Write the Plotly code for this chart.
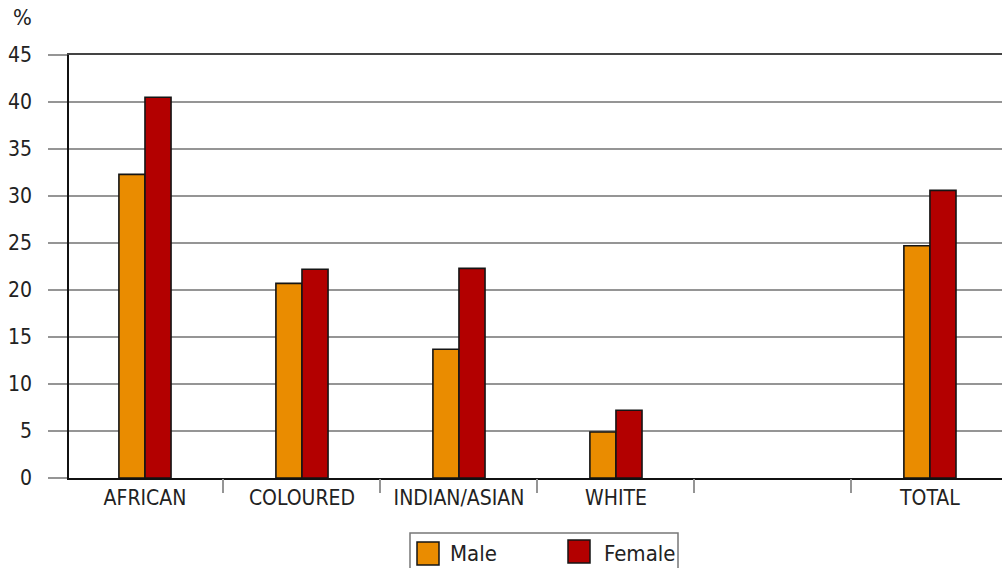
import plotly.graph_objects as go

# Share of population (%) by group and sex
categories = ["AFRICAN", "COLOURED", "INDIAN/ASIAN", "WHITE", "", "TOTAL"]
male = [32.3, 20.7, 13.7, 4.9, None, 24.7]
female = [40.5, 22.2, 22.3, 7.2, None, 30.6]
series_names = ["Male", "Female"]
y_ticks = [0, 5, 10, 15, 20, 25, 30, 35, 40, 45]

ORANGE = "#EA8C00"
RED = "#B30000"
FONT = "DejaVu Sans Condensed, Liberation Sans Narrow, sans-serif"
GRID = "#959595"

x_idx = list(range(len(categories)))
x_range = [-0.484, 5.459]

# plot-area geometry in pixels, used to place the legend box in paper units
L, T, B, W, H = 69, 55, 478, 1002, 568
PW, PH = W - L, B - T


def px_x(px):
    return (px - L) / PW


def px_y(py):
    return (B - py) / PH


fig = go.Figure()
for name, vals, col in [(series_names[0], male, ORANGE), (series_names[1], female, RED)]:
    fig.add_trace(go.Bar(
        x=x_idx, y=vals, name=name, showlegend=False,
        marker=dict(color=col, line=dict(color="#151515", width=1.6)),
    ))

# empty traces that carry the boundary-tick axis and the top frame axis
fig.add_trace(go.Scatter(x=[None], y=[None], xaxis="x2", showlegend=False, hoverinfo="skip"))
fig.add_trace(go.Scatter(x=[None], y=[None], xaxis="x3", showlegend=False, hoverinfo="skip"))

fig.update_layout(
    width=W, height=H,
    margin=dict(l=L, r=0, t=T, b=H - B),
    paper_bgcolor="white", plot_bgcolor="white",
    barmode="group", bargap=1 - 2 * 0.166, bargroupgap=0,
    font=dict(family=FONT, size=21, color="#222222"),
    xaxis=dict(
        range=x_range, tickmode="array", tickvals=x_idx, ticktext=categories,
        ticks="", showgrid=False, zeroline=False,
        showline=True, linecolor="#111111", linewidth=2,
        tickfont=dict(family=FONT, size=21, color="#222222"),
    ),
    xaxis2=dict(
        range=x_range, overlaying="x", anchor="y", side="bottom",
        tickmode="array", tickvals=[i + 0.5 for i in x_idx[:-1]],
        ticks="outside", ticklen=14, tickwidth=1.5, tickcolor=GRID,
        showticklabels=False, showgrid=False, zeroline=False, showline=False,
    ),
    xaxis3=dict(
        range=x_range, overlaying="x", anchor="y", side="top",
        showticklabels=False, ticks="", showgrid=False, zeroline=False,
        showline=True, linecolor="#444444", linewidth=2,
    ),
    yaxis=dict(
        range=[0, 45], tickmode="array", tickvals=y_ticks,
        ticks="outside", ticklen=19, tickwidth=1.5, tickcolor=GRID,
        showgrid=True, gridcolor=GRID, gridwidth=1.5, zeroline=False,
        showline=True, linecolor="#111111", linewidth=1.5,
        ticklabelstandoff=12,
        tickfont=dict(family=FONT, size=21, color="#222222"),
    ),
    annotations=[
        dict(text="%", xref="paper", yref="paper", x=px_x(22), y=px_y(18),
             xanchor="center", yanchor="middle", showarrow=False,
             font=dict(family=FONT, size=22, color="#222222")),
    ],
)

# legend drawn as a framed box with square swatches below the plot
legend_shapes = [
    dict(type="rect", xref="paper", yref="paper", x0=px_x(410), x1=px_x(678),
         y0=px_y(572), y1=px_y(533),
         line=dict(color="#777777", width=1.5), fillcolor="white", layer="above"),
]
swatches = [(417, 542, ORANGE), (568, 540, RED)]
for (sx, sy, col) in swatches:
    legend_shapes.append(dict(
        type="rect", xref="paper", yref="paper",
        x0=px_x(sx), x1=px_x(sx + 22), y0=px_y(sy + 23), y1=px_y(sy),
        line=dict(color="#151515", width=1.5), fillcolor=col, layer="above"))
fig.update_layout(shapes=legend_shapes)
for (tx, name) in [(448, series_names[0]), (602, series_names[1])]:
    fig.add_annotation(
        text=name, xref="paper", yref="paper", x=px_x(tx), y=px_y(553),
        xanchor="left", yanchor="middle", showarrow=False,
        font=dict(family=FONT, size=22, color="#222222"))

fig.write_html("out.html")
